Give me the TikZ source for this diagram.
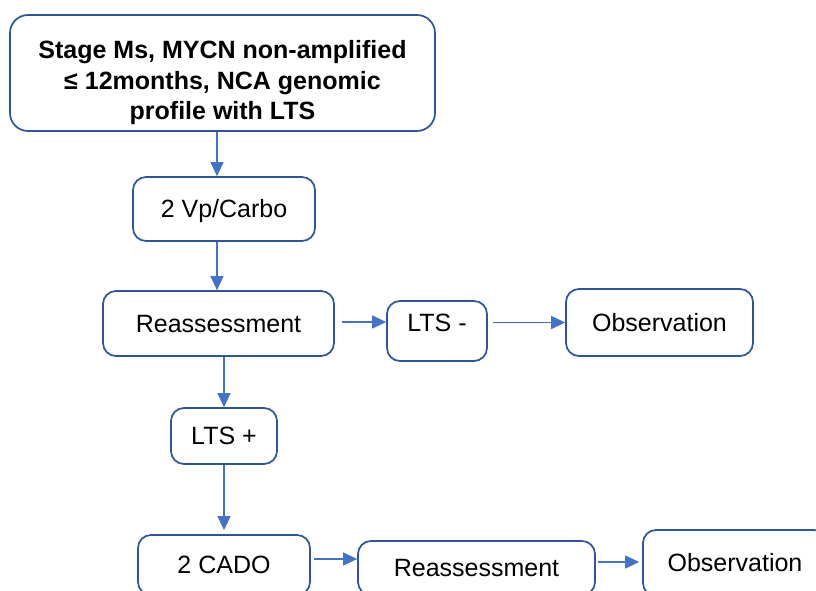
\documentclass[tikz,border=0pt]{standalone}
\usepackage{fontspec}
\setmainfont{Liberation Sans}
\usepackage{xcolor}
\usetikzlibrary{arrows.meta}
\definecolor{boxblue}{HTML}{2F5597}
\definecolor{arrowblue}{HTML}{4472C4}
\tikzset{
  box/.style={draw=boxblue, line width=1.7pt, rounded corners=13pt, fill=white,
    align=center, inner sep=0pt, font=\fontsize{25}{30.5}\selectfont},
  linebox/.style={box, text height=25pt, text depth=7.5pt},
  arr/.style={draw=arrowblue, line width=1.2pt, -{Triangle[length=14pt,width=13pt]}},
}

\begin{document}
\begin{tikzpicture}[x=1pt,y=-1pt]
  \clip (0,0) rectangle (816,591);
  \node[box, font=\fontsize{25}{30.5}\selectfont\bfseries, rounded corners=18pt,
    minimum width=425pt, minimum height=116pt] (top) at (222.5,73)
    {\rule{0pt}{38pt}Stage Ms, MYCN non-amplified\\ ≤ 12months, NCA genomic\\ profile with LTS};
  \node[linebox, minimum width=182pt, minimum height=64pt] (vp) at (224,209) {2 Vp/Carbo};
  \node[linebox, minimum width=231pt, minimum height=65pt] (reA) at (218.5,323.5) {Reassessment};
  \node[linebox, text depth=24.5pt, minimum width=100pt, minimum height=60pt] (ltsm) at (437,331) {LTS -};
  \node[linebox, minimum width=187pt, minimum height=67pt] (obsA) at (659.5,322.5) {Observation};
  \node[linebox, minimum width=106pt, minimum height=56pt] (ltsp) at (224,436) {LTS +};
  \node[linebox, minimum width=172pt, minimum height=60pt] (cado) at (224,565) {2 CADO};
  \node[linebox, minimum width=237pt, minimum height=54pt] (reB) at (476.5,568) {Reassessment};
  \node[linebox, minimum width=184pt, minimum height=66pt] (obsB) at (735,563) {Observation};

  \draw[arr] (217,0 |- top.south) -- (217,0 |- vp.north);
  \draw[arr] (217,0 |- vp.south) -- (217,0 |- reA.north);
  \draw[arr] (reA.east) ++(7,-1.5) coordinate (a1) -- (a1 -| ltsm.west);
  \draw[arr] (ltsm.east |- obsA.west) ++(5,0) -- (obsA.west);
  \draw[arr] (ltsp.north |- reA.south) -- (ltsp.north);
  \draw[arr] (ltsp.south) -- ([yshift=4pt]cado.north);
  \draw[arr] (cado.east) ++(3,-6) coordinate (a2) -- (a2 -| reB.west);
  \draw[arr, shorten >=3pt] (reB.east) ++(2,-6) coordinate (a3) -- (a3 -| obsB.west);
\end{tikzpicture}
\end{document}
